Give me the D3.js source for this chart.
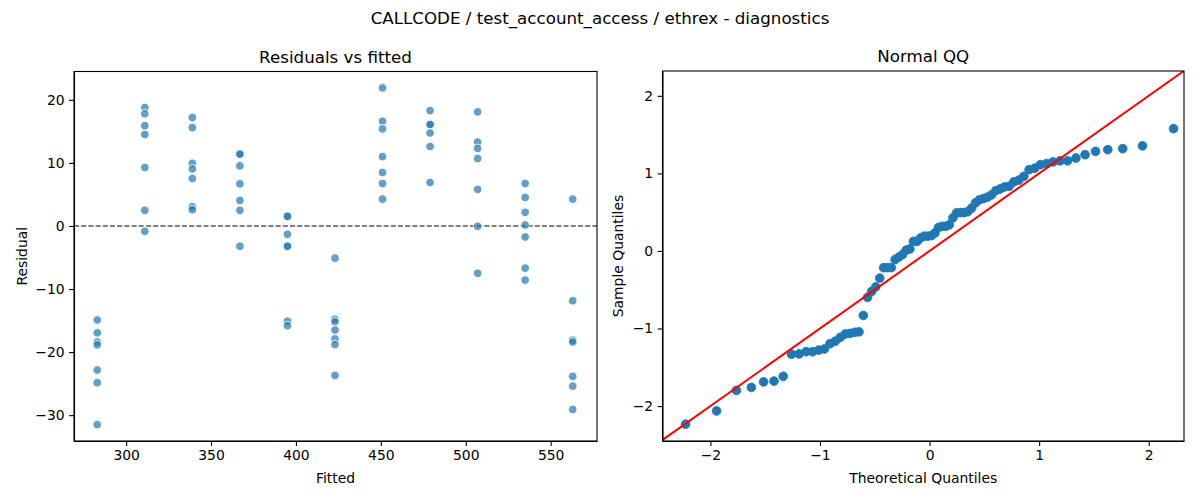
<!DOCTYPE html>
<html lang="en">
<head>
    <meta charset="UTF-8">
    <title>diagnostics</title>
    <script src="https://cdn.jsdelivr.net/npm/d3@7"></script>
    <style>
        body { margin: 0; background: #fff; }
        svg text { font-family: "DejaVu Sans", sans-serif; fill: #000; }
        .tick line, .domain { stroke: #000; stroke-width: 1.1px; }
        .tick text { font-size: 13.9px; }
    </style>
</head>
<body>
<div id="chart"></div>
<script>
    // fitted levels (x columns) and the residuals read at each level
    var fitted = [283, 311, 339, 367, 395, 423, 451, 479, 507, 535, 563];
    var residuals = [
        [-14.9, -16.95, -18.4, -18.85, -22.85, -24.85, -31.5],
        [18.8, 17.8, 15.9, 14.5, 9.27, 2.48, -0.84],
        [17.2, 15.6, 9.95, 9.05, 7.53, 3.05, 2.58],
        [11.5, 11.37, 9.53, 6.68, 4.05, 2.48, -3.21],
        [1.53, 1.53, -1.31, -3.21, -3.21, -15.1, -15.8],
        [-5.1, -14.8, -15.2, -16.5, -17.9, -18.8, -23.7],
        [21.9, 16.6, 15.4, 11.0, 8.48, 6.74, 4.26],
        [18.3, 16.1, 16.1, 14.75, 12.6, 6.9],
        [18.1, 13.3, 12.3, 10.7, 5.8, -0.05, -7.5],
        [6.74, 4.53, 2.16, 0.16, -1.74, -6.69, -8.58],
        [4.26, -11.85, -18.1, -18.4, -23.85, -25.4, -29.1]
    ];
    var xTicksLeft = [300, 350, 400, 450, 500, 550];
    var yTicksLeft = [-30, -20, -10, 0, 10, 20];
    var ticksQQ = [-2, -1, 0, 1, 2];

    var blue = '#1f77b4';
    var fmt = d3.format('d');

    var svg = d3.select('#chart').append('svg')
        .attr('width', 1200)
        .attr('height', 500);

    svg.append('text')
        .attr('x', 600).attr('y', 24)
        .attr('text-anchor', 'middle')
        .style('font-size', '16.7px')
        .text('CALLCODE / test_account_access / ethrex - diagnostics');

    // ---- left: residuals vs fitted
    var L = {left: 74, right: 597, top: 71.5, bottom: 441};
    var x1 = d3.scaleLinear().domain([269.3, 577.3]).range([L.left, L.right]);
    var y1 = d3.scaleLinear().domain([-34.1, 24.5]).range([L.bottom, L.top]);

    var pts = [];
    fitted.forEach(function (f, i) {
        residuals[i].forEach(function (r) { pts.push({x: f, y: r}); });
    });

    var g1 = svg.append('g');
    g1.append('line')
        .attr('x1', L.left).attr('x2', L.right)
        .attr('y1', y1(0)).attr('y2', y1(0))
        .attr('stroke', '#000').attr('stroke-width', 1.2)
        .attr('stroke-dasharray', '5,2.2');

    g1.selectAll('circle').data(pts).enter().append('circle')
        .attr('cx', d => x1(d.x))
        .attr('cy', d => y1(d.y))
        .attr('r', 4.3)
        .attr('fill', blue)
        .attr('fill-opacity', 0.7)
        .attr('stroke', '#fff')
        .attr('stroke-width', 0.9);

    g1.append('g').attr('transform', 'translate(0,' + L.bottom + ')')
        .call(d3.axisBottom(x1).tickValues(xTicksLeft).tickFormat(fmt).tickSize(4.9).tickPadding(4.5).tickSizeOuter(0));
    g1.append('g').attr('transform', 'translate(' + L.left + ',0)')
        .call(d3.axisLeft(y1).tickValues(yTicksLeft).tickFormat(fmt).tickSize(4.9).tickPadding(4.5).tickSizeOuter(0));
    g1.append('rect')
        .attr('x', L.left).attr('y', L.top)
        .attr('width', L.right - L.left).attr('height', L.bottom - L.top)
        .attr('fill', 'none').attr('stroke', '#000').attr('stroke-width', 1.1);

    g1.append('text').attr('x', (L.left + L.right) / 2).attr('y', L.top - 9)
        .attr('text-anchor', 'middle').style('font-size', '16.7px').text('Residuals vs fitted');
    g1.append('text').attr('x', (L.left + L.right) / 2).attr('y', 483)
        .attr('text-anchor', 'middle').style('font-size', '13.9px').text('Fitted');
    g1.append('text').attr('transform', 'translate(27,' + (L.top + L.bottom) / 2 + ') rotate(-90)')
        .attr('text-anchor', 'middle').style('font-size', '13.9px').text('Residual');

    // ---- right: normal QQ of the same residuals (standardised, positions i/(n+1))
    function normInv(p) {
        var a = [-3.969683028665376e+01, 2.209460984245205e+02, -2.759285104469687e+02, 1.383577518672690e+02, -3.066479806614716e+01, 2.506628277459239e+00];
        var b = [-5.447609879822406e+01, 1.615858368580409e+02, -1.556989798598866e+02, 6.680131188771972e+01, -1.328068155288572e+01];
        var c = [-7.784894002430293e-03, -3.223964580411365e-01, -2.400758277161838e+00, -2.549671039342143e+00, 4.374664141464968e+00, 2.938163982698783e+00];
        var d = [7.784695709041462e-03, 3.224671290700398e-01, 2.445134137142996e+00, 3.754408661907416e+00];
        var q, r;
        if (p < 0.02425) {
            q = Math.sqrt(-2 * Math.log(p));
            return (((((c[0] * q + c[1]) * q + c[2]) * q + c[3]) * q + c[4]) * q + c[5]) /
                ((((d[0] * q + d[1]) * q + d[2]) * q + d[3]) * q + 1);
        }
        if (p > 1 - 0.02425) return -normInv(1 - p);
        q = p - 0.5; r = q * q;
        return (((((a[0] * r + a[1]) * r + a[2]) * r + a[3]) * r + a[4]) * r + a[5]) * q /
            (((((b[0] * r + b[1]) * r + b[2]) * r + b[3]) * r + b[4]) * r + 1);
    }

    var allRes = pts.map(d => d.y).sort(d3.ascending);
    var n = allRes.length;
    var mu = d3.mean(allRes);
    var sd = d3.deviation(allRes);
    var qq = allRes.map(function (v, i) {
        return {t: normInv((i + 1) / (n + 1)), s: (v - mu) / sd};
    });

    var R = {left: 662.5, right: 1184, top: 71, bottom: 441};
    var x2 = d3.scaleLinear().domain([-2.437, 2.322]).range([R.left, R.right]);
    var y2 = d3.scaleLinear().domain([-2.45, 2.32]).range([R.bottom, R.top]);

    var g2 = svg.append('g');
    g2.append('clipPath').attr('id', 'clipR').append('rect')
        .attr('x', R.left).attr('y', R.top)
        .attr('width', R.right - R.left).attr('height', R.bottom - R.top);

    g2.selectAll('circle').data(qq).enter().append('circle')
        .attr('cx', d => x2(d.t))
        .attr('cy', d => y2(d.s))
        .attr('r', 4.4)
        .attr('fill', blue)
        .attr('stroke', blue)
        .attr('stroke-width', 0.8);

    var lo = -2.5, hi = 2.5;
    g2.append('line')
        .attr('clip-path', 'url(#clipR)')
        .attr('x1', x2(lo)).attr('y1', y2(lo))
        .attr('x2', x2(hi)).attr('y2', y2(hi))
        .attr('stroke', 'red').attr('stroke-width', 2);

    g2.append('g').attr('transform', 'translate(0,' + R.bottom + ')')
        .call(d3.axisBottom(x2).tickValues(ticksQQ).tickFormat(fmt).tickSize(4.9).tickPadding(4.5).tickSizeOuter(0));
    g2.append('g').attr('transform', 'translate(' + R.left + ',0)')
        .call(d3.axisLeft(y2).tickValues(ticksQQ).tickFormat(fmt).tickSize(4.9).tickPadding(4.5).tickSizeOuter(0));
    g2.append('rect')
        .attr('x', R.left).attr('y', R.top)
        .attr('width', R.right - R.left).attr('height', R.bottom - R.top)
        .attr('fill', 'none').attr('stroke', '#000').attr('stroke-width', 1.1);

    g2.append('text').attr('x', (R.left + R.right) / 2).attr('y', R.top - 9)
        .attr('text-anchor', 'middle').style('font-size', '16.7px').text('Normal QQ');
    g2.append('text').attr('x', (R.left + R.right) / 2).attr('y', 483)
        .attr('text-anchor', 'middle').style('font-size', '13.9px').text('Theoretical Quantiles');
    g2.append('text').attr('transform', 'translate(623,' + (R.top + R.bottom) / 2 + ') rotate(-90)')
        .attr('text-anchor', 'middle').style('font-size', '13.9px').text('Sample Quantiles');
</script>
</body>
</html>
